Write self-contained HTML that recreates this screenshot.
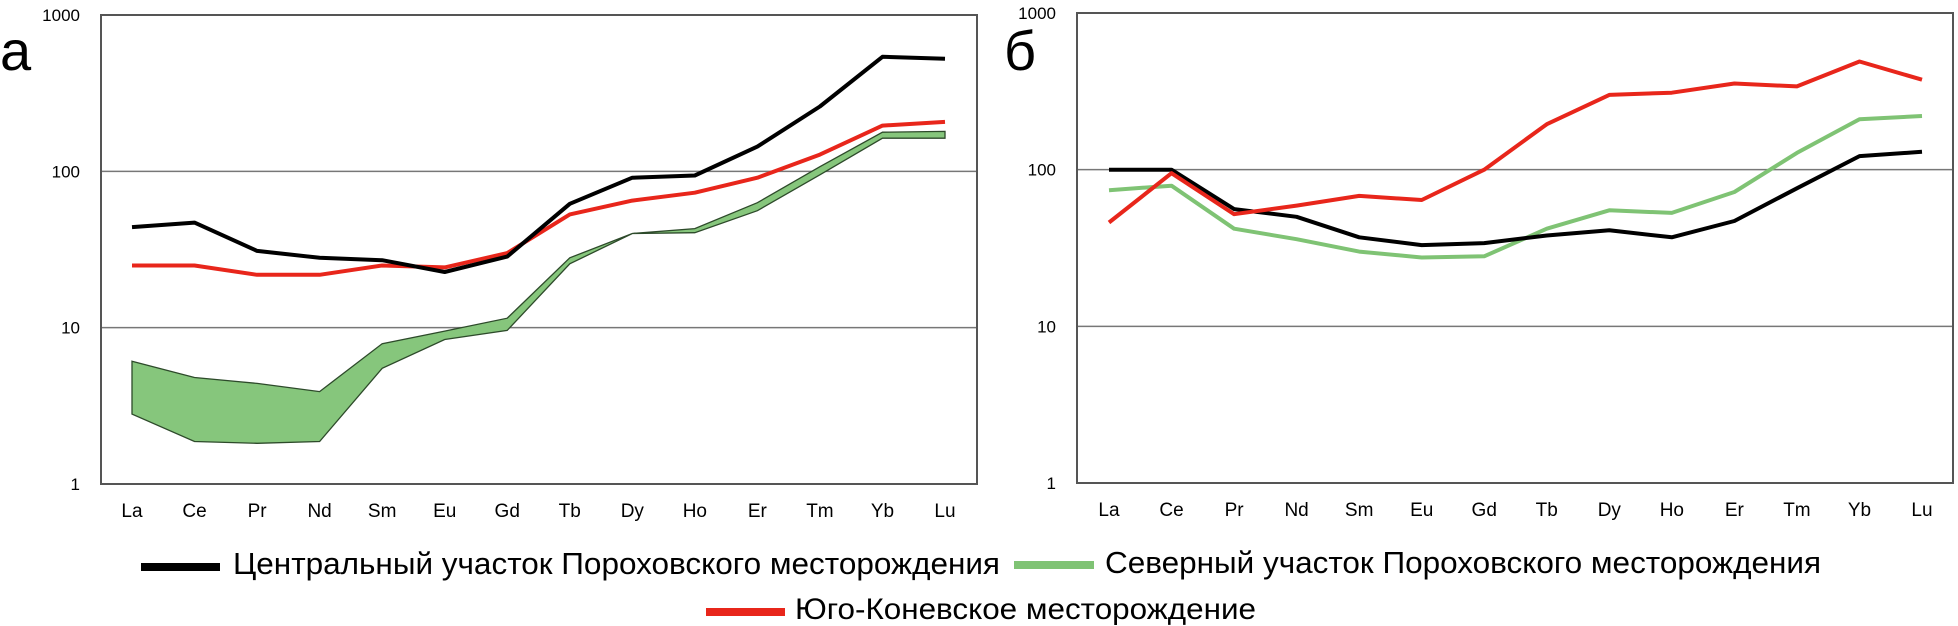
<!DOCTYPE html>
<html><head><meta charset="utf-8"><style>
html,body{margin:0;padding:0;background:#fff;}
svg{display:block;font-family:"Liberation Sans",Arial,sans-serif;}
</style></head><body>
<svg id="chart" width="1958" height="626" viewBox="0 0 1958 626" xmlns="http://www.w3.org/2000/svg">
<g id="panelA"></g>
<g id="panelB"></g>
<text x="0" y="70" font-size="56">а</text>
<text x="1004" y="70" font-size="56">б</text>
<g>
<line x1="141" y1="567" x2="220" y2="567" stroke="#000" stroke-width="8"/>
<text x="233" y="574" font-size="31" textLength="767" lengthAdjust="spacingAndGlyphs">Центральный участок Пороховского месторождения</text>
<line x1="1014" y1="565" x2="1094" y2="565" stroke="#7fc374" stroke-width="8"/>
<text x="1105" y="573" font-size="31" textLength="716" lengthAdjust="spacingAndGlyphs">Северный участок Пороховского месторождения</text>
<line x1="706" y1="612" x2="785" y2="612" stroke="#e8261b" stroke-width="8"/>
<text x="795" y="619" font-size="30" textLength="461" lengthAdjust="spacingAndGlyphs">Юго-Коневское месторождение</text>
</g>
</svg>
<script>
const categories = ["La","Ce","Pr","Nd","Sm","Eu","Gd","Tb","Dy","Ho","Er","Tm","Yb","Lu"];
const yTicks = [1, 10, 100, 1000];
const aCentral = [44,47,31,28,27,22.7,28.5,62,91,94,144,260,540,525];
const aYugo = [25,25,21.8,21.8,25,24.3,30,53,65,73,91,128,196,207];
const aNorthUpper = [6.1,4.8,4.4,3.9,7.9,9.5,11.5,28,40,43,63,107,178,180];
const aNorthLower = [2.8,1.87,1.82,1.87,5.5,8.4,9.6,25.6,40,40.5,56,95,163,163];
const bCentral = [100,100,56,50,37,33,34,38,41,37,47,76,122,130];
const bNorth = [74,79,42,36,30,27.5,28,42,55,53,72,128,210,220];
const bYugo = [46,95,52,59,68,64,100,195,300,310,355,340,490,375];

const NS = "http://www.w3.org/2000/svg";
function mk(tag, attrs, parent){
  const e = document.createElementNS(NS, tag);
  for (const k in attrs) e.setAttribute(k, attrs[k]);
  parent.appendChild(e);
  return e;
}
function panel(g, left, right, top, bottom, firstX, lastX){
  const decade = (bottom - top) / 3;
  const y = v => bottom - Math.log10(v) * decade;
  const x = i => firstX + i * (lastX - firstX) / (categories.length - 1);
  yTicks.forEach(t => {
    if (t === 10 || t === 100) {
      const gl = mk("line", {x1:left, x2:right, y1:y(t), y2:y(t), stroke:"#777", "stroke-width":1.5}, g);
      
      
    }
    const tl = mk("text", {x:left - 21, y:y(t) + 6, "font-size":17, "text-anchor":"end"}, g);
    tl.textContent = t;
    
    
  });
  const frame = mk("rect", {x:left, y:top, width:right-left, height:bottom-top, fill:"none", stroke:"#555", "stroke-width":2}, g);
  
  
  categories.forEach((c, i) => {
    const xl = mk("text", {x:x(i), y:bottom + 33, "font-size":19, "text-anchor":"middle"}, g);
    xl.textContent = c;
    
    
  });
  return {x, y};
}
function line(g, ax, vals, color, w, name){
  const p = vals.map((v,i) => ax.x(i).toFixed(1) + "," + ax.y(v).toFixed(1)).join(" ");
  const l = mk("polyline", {points:p, fill:"none", stroke:color, "stroke-width":w, "stroke-linejoin":"round"}, g);
  
  
}
const gA = document.getElementById("panelA");
const axA = panel(gA, 101, 977, 15, 484, 132, 945);
const bandPts = aNorthUpper.map((v,i)=>axA.x(i).toFixed(1)+","+axA.y(v).toFixed(1))
  .concat(aNorthLower.map((v,i)=>axA.x(i).toFixed(1)+","+axA.y(v).toFixed(1)).reverse()).join(" ");
const band = mk("polygon", {points:bandPts, fill:"#86c67c", stroke:"#2d4a2a", "stroke-width":1.3}, gA);


line(gA, axA, aYugo, "#e8261b", 4, "series-a-yugo-konev");
line(gA, axA, aCentral, "#000", 4, "series-a-central");

const gB = document.getElementById("panelB");
const axB = panel(gB, 1077, 1953, 13, 483, 1109, 1922);
line(gB, axB, bNorth, "#7fc374", 4, "series-b-north");
line(gB, axB, bCentral, "#000", 4, "series-b-central");
line(gB, axB, bYugo, "#e8261b", 4, "series-b-yugo-konev");
</script>
</body></html>
